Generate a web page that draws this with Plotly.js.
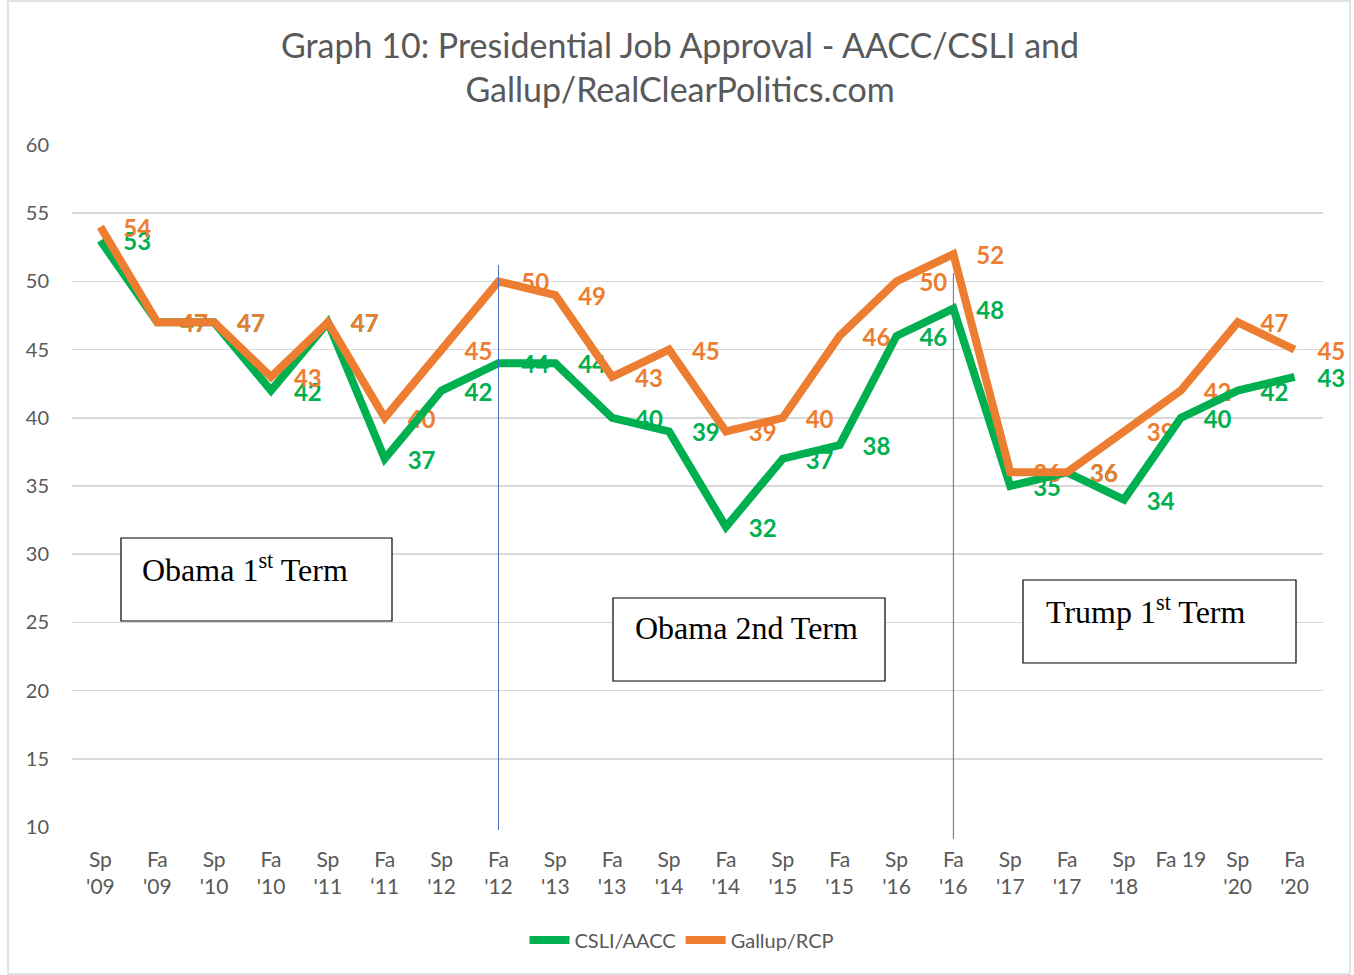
<!DOCTYPE html>
<html>
<head>
<meta charset="utf-8">
<script src="https://cdn.plot.ly/plotly-3.0.1.min.js"></script>
<style>
  html, body { margin: 0; padding: 0; background: #ffffff; }
  #chart { width: 1354px; height: 975px; }
</style>
</head>
<body>
<div id="chart"></div>
<script>
// ---- data ----
const categories = ["Sp '09","Fa '09","Sp '10","Fa '10","Sp '11","Fa '11","Sp '12","Fa '12","Sp '13","Fa '13","Sp '14","Fa '14","Sp '15","Fa '15","Sp '16","Fa '16","Sp '17","Fa '17","Sp '18","Fa 19","Sp '20","Fa '20"];
const tickLabels = ["Sp<br>'09","Fa<br>'09","Sp<br>'10","Fa<br>'10","Sp<br>'11","Fa<br>\u201811","Sp<br>'12","Fa<br>'12","Sp<br>'13","Fa<br>'13","Sp<br>'14","Fa<br>'14","Sp<br>'15","Fa<br>'15","Sp<br>'16","Fa<br>'16","Sp<br>'17","Fa<br>'17","Sp<br>'18","Fa 19","Sp<br>'20","Fa<br>'20"];
const csliAacc  = [53, 47, 47, 42, 47, 37, 42, 44, 44, 40, 39, 32, 37, 38, 46, 48, 35, 36, 34, 40, 42, 43];
const gallupRcp = [54, 47, 47, 43, 47, 40, 45, 50, 49, 43, 45, 39, 40, 46, 50, 52, 36, 36, 39, 42, 47, 45];
const seriesNames = ["CSLI/AACC", "Gallup/RCP"];
const yTicks = [10, 15, 20, 25, 30, 35, 40, 45, 50, 55, 60];
const termLabels = ["Obama 1<sup>st</sup> Term", "Obama 2nd Term", "Trump 1<sup>st</sup> Term"];
const termDividers = ["Fa '12", "Fa '16"];

// ---- styling / layout helpers ----
const GREEN = "#00B050", ORANGE = "#ED7D31", GREY = "#595959";
const W = 1354, H = 975;
const M = {l: 72, r: 31, t: 145, b: 148};
const PW = W - M.l - M.r, PH = H - M.t - M.b;
const px = x => (x - M.l) / PW;
const py = y => (H - M.b - y) / PH;
const Y_RANGE = [10, 60];
const LABEL_DROP = 4 * (Y_RANGE[1] - Y_RANGE[0]) / PH; // labels sit a few px lower than points

const labelFont = (c) => ({family: "Lato, sans-serif", size: 24, color: c, weight: 700});

const traces = [
  // data labels (drawn first, beneath the lines)
  {x: categories, y: csliAacc, yaxis: "y", mode: "markers+text", text: csliAacc.map(String),
   textposition: "middle right", textfont: labelFont(GREEN),
   marker: {size: 35, opacity: 0, color: GREEN}, showlegend: false, hoverinfo: "skip", cliponaxis: false},
  {x: categories, y: gallupRcp, yaxis: "y", mode: "markers+text", text: gallupRcp.map(String),
   textposition: "middle right", textfont: labelFont(ORANGE),
   marker: {size: 35, opacity: 0, color: ORANGE}, showlegend: false, hoverinfo: "skip", cliponaxis: false},
  // lines
  {x: categories, y: csliAacc, yaxis: "y2", mode: "lines", name: seriesNames[0],
   line: {color: GREEN, width: 8}},
  {x: categories, y: gallupRcp, yaxis: "y2", mode: "lines", name: seriesNames[1],
   line: {color: ORANGE, width: 8}}
];

const boxes = [
  {x0: 121, x1: 392, y0: 538, y1: 621, tx: 140, ty: 568},
  {x0: 613, x1: 885, y0: 598, y1: 681, tx: 633, ty: 628},
  {x0: 1023, x1: 1296, y0: 580, y1: 663, tx: 1044, ty: 610}
];

const shapes = [
  // outer chart border
  {type: "rect", xref: "paper", yref: "paper", x0: px(8), x1: px(1350), y0: py(974), y1: py(1),
   line: {color: "#d9d9d9", width: 1.5}, fillcolor: "rgba(0,0,0,0)", layer: "below"},
  // term dividers
  {type: "line", xref: "x", yref: "paper", x0: termDividers[0], x1: termDividers[0], y0: py(830), y1: py(265),
   line: {color: "#4472C4", width: 1}, layer: "above"},
  {type: "line", xref: "x", yref: "paper", x0: termDividers[1], x1: termDividers[1], y0: py(839), y1: py(273),
   line: {color: "#4472C4", width: 1}, layer: "above"}
];
boxes.forEach(b => shapes.push({type: "rect", xref: "paper", yref: "paper",
  x0: px(b.x0), x1: px(b.x1), y0: py(b.y1), y1: py(b.y0),
  line: {color: "#000000", width: 1.2}, fillcolor: "#ffffff", layer: "above"}));

const annotations = boxes.map((b, i) => ({
  xref: "paper", yref: "paper", x: px(b.tx), y: py(b.ty), xanchor: "left", yanchor: "middle",
  text: termLabels[i], showarrow: false,
  font: {family: "Liberation Serif, Times New Roman, serif", size: 32, color: "#000000"}
}));

const layout = {
  width: W, height: H,
  margin: M,
  paper_bgcolor: "#ffffff", plot_bgcolor: "#ffffff",
  title: {
    text: "Graph 10: Presidential Job Approval - AACC/CSLI and<br>Gallup/RealClearPolitics.com",
    font: {family: "Lato, sans-serif", size: 34, color: GREY},
    xref: "container", x: 680 / W, xanchor: "center",
    yref: "container", y: 1 - 58 / H, yanchor: "top"
  },
  xaxis: {
    type: "category", range: [-0.5, categories.length - 0.5],
    tickvals: categories, ticktext: tickLabels,
    showgrid: false, zeroline: false, showline: false, ticks: "",
    tickfont: {family: "Lato, sans-serif", size: 21, color: GREY},
    ticklabelstandoff: 18,
    fixedrange: true
  },
  yaxis: {
    range: [Y_RANGE[0] + LABEL_DROP, Y_RANGE[1] + LABEL_DROP],
    visible: false, showgrid: false, zeroline: false, fixedrange: true
  },
  yaxis2: {
    overlaying: "y", side: "left",
    range: Y_RANGE, tickvals: yTicks, ticktext: yTicks.map(String),
    showgrid: true, gridcolor: "#d9d9d9", gridwidth: 1.5,
    zeroline: false, showline: false, ticks: "",
    tickfont: {family: "Lato, sans-serif", size: 20, color: GREY},
    ticklabelstandoff: 22,
    fixedrange: true
  },
  showlegend: true,
  legend: {
    orientation: "h", xref: "paper", yref: "paper",
    x: px(682), xanchor: "center", y: py(940), yanchor: "middle",
    font: {family: "Lato, sans-serif", size: 20, color: GREY},
    itemwidth: 40, bgcolor: "rgba(0,0,0,0)"
  },
  shapes: shapes,
  annotations: annotations,
  hovermode: false
};

Plotly.newPlot("chart", traces, layout, {displayModeBar: false, staticPlot: true});
</script>
</body>
</html>
